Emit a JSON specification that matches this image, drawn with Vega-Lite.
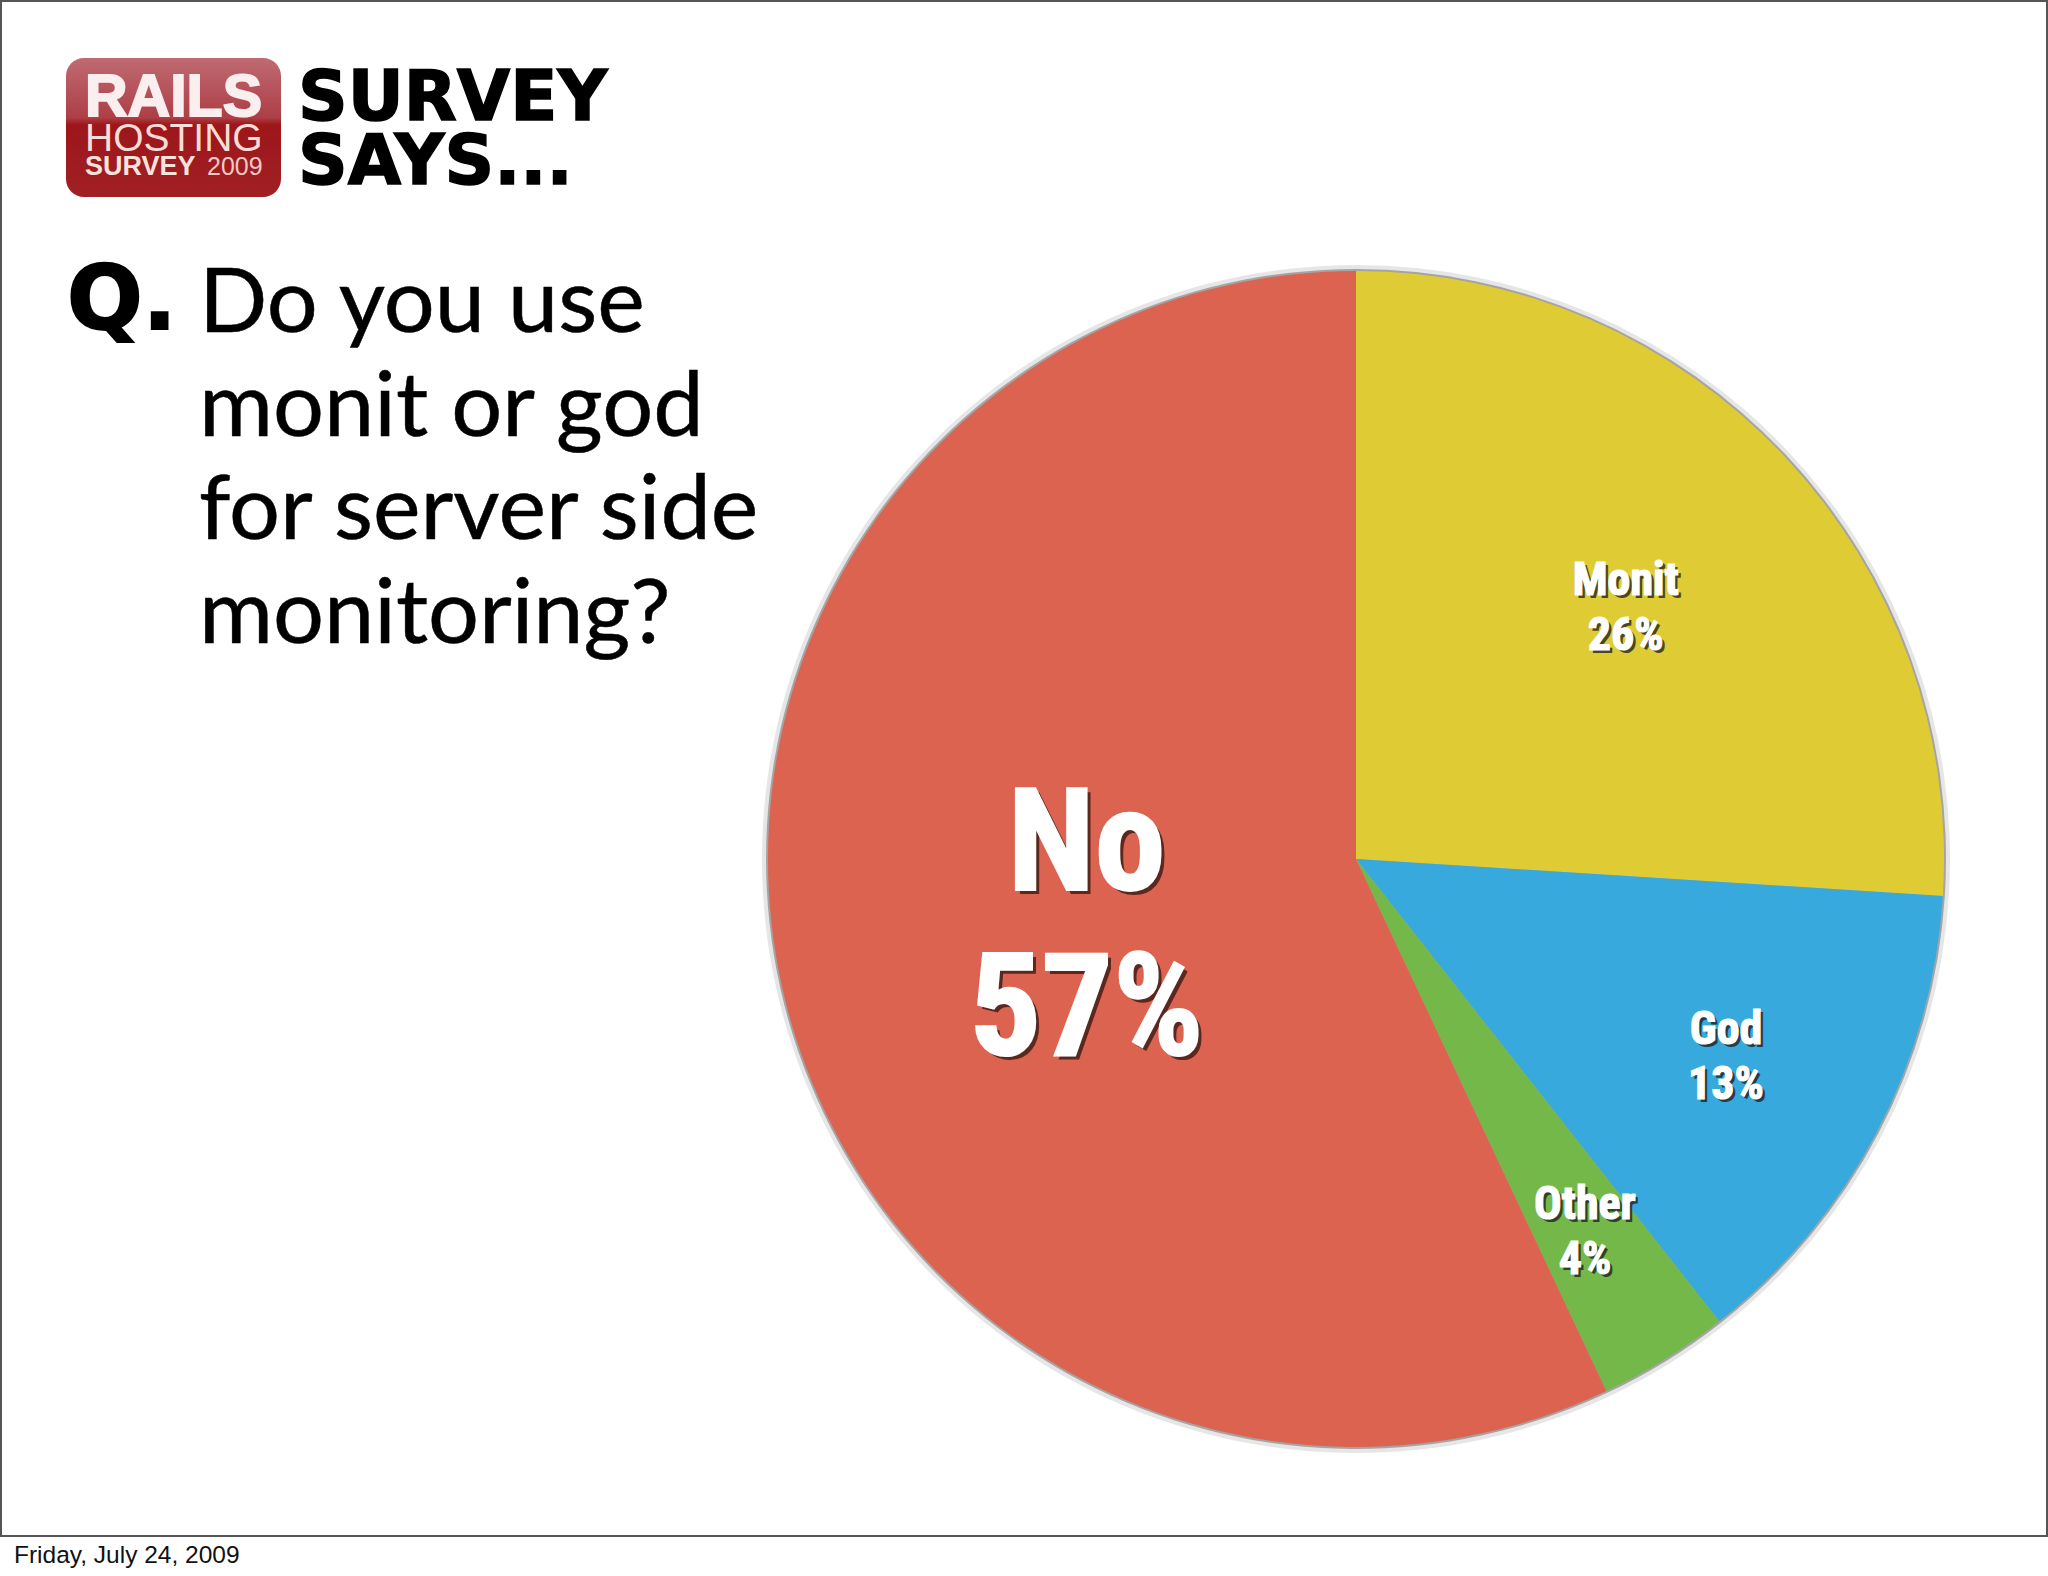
{"$schema":"https://vega.github.io/schema/vega-lite/v6.json","width":1178,"height":1178,"padding":{"left":767,"top":270,"right":103,"bottom":128},"autosize":{"type":"none"},"background":"white","view":{"stroke":null},
"datasets":{"pie":[{"category":"Monit","share":26,"rank":1,"label":"Monit\n26%"},{"category":"God","share":13.4,"rank":2,"label":"God\n13%"},{"category":"Other","share":3.6,"rank":3,"label":"Other\n4%"},{"category":"No","share":57,"rank":4,"label":"No\n57%"}]},
"data":{"name":"pie"},
"transform":[{"stack":"share","sort":[{"field":"rank"}],"as":["a0","a1"]},{"calculate":"(datum.a0+datum.a1)/2","as":"mid"}],
"layer":[
{"data":{"values":[{"part":"frame"}]},"mark":{"type":"rect","filled":false,"stroke":"#555555","strokeWidth":2},"encoding":{"x":{"datum":1,"type":"quantitative","scale":{"domain":[767,1945],"nice":false,"zero":false},"axis":null},"x2":{"datum":2047},"y":{"datum":1,"type":"quantitative","scale":{"domain":[1448,270],"nice":false,"zero":false},"axis":null},"y2":{"datum":1536}}},
{"data":{"values":[{"part":"badge"}]},"mark":{"type":"rect","cornerRadius":18,"fill":{"gradient":"linear","x1":0,"y1":0,"x2":0,"y2":1,"stops":[{"offset":0,"color":"#bf6a72"},{"offset":0.43,"color":"#ad3f46"},{"offset":0.48,"color":"#9d161a"},{"offset":1,"color":"#a02024"}]}},"encoding":{"x":{"datum":66},"x2":{"datum":281},"y":{"datum":58},"y2":{"datum":197}}},
{"data":{"values":[{"note":"RAILS"}]},"mark":{"type":"text","align":"left","baseline":"alphabetic","font":"Liberation Sans","fontWeight":"bold","fontSize":59,"fill":"#fbeeee","stroke":"#fbeeee","strokeWidth":2},"encoding":{"x":{"datum":85},"y":{"datum":116},"text":{"field":"note"}}},
{"data":{"values":[{"note":"HOSTING"}]},"mark":{"type":"text","align":"left","baseline":"alphabetic","font":"Liberation Sans","fontSize":39,"fill":"#f7dcd8"},"encoding":{"x":{"datum":85},"y":{"datum":151},"text":{"field":"note"}}},
{"data":{"values":[{"note":"SURVEY"}]},"mark":{"type":"text","align":"left","baseline":"alphabetic","font":"Liberation Sans","fontWeight":"bold","fontSize":27,"fill":"#f7e2dc"},"encoding":{"x":{"datum":85},"y":{"datum":175},"text":{"field":"note"}}},
{"data":{"values":[{"note":"2009"}]},"mark":{"type":"text","align":"left","baseline":"alphabetic","font":"Liberation Sans","fontSize":25,"fill":"#f0c8c4"},"encoding":{"x":{"datum":207},"y":{"datum":175},"text":{"field":"note"}}},
{"data":{"values":[{"note":"SURVEY\nSAYS..."}]},"mark":{"type":"text","align":"left","baseline":"alphabetic","font":"DejaVu Sans","fontWeight":"bold","fontSize":69,"lineHeight":64,"lineBreak":"\n","fill":"#000000","stroke":"#000000","strokeWidth":1.5},"encoding":{"x":{"datum":298},"y":{"datum":120},"text":{"field":"note"}}},
{"data":{"values":[{"note":"Q."}]},"mark":{"type":"text","align":"left","baseline":"alphabetic","font":"DejaVu Sans","fontWeight":"bold","fontSize":89,"fill":"#000000","stroke":"#000000","strokeWidth":2},"encoding":{"x":{"datum":67},"y":{"datum":329},"text":{"field":"note"}}},
{"data":{"values":[{"note":"Do you use\nmonit or god\nfor server side\nmonitoring?"}]},"mark":{"type":"text","align":"left","baseline":"alphabetic","font":"Lato","fontSize":90,"lineHeight":103.5,"lineBreak":"\n","fill":"#000000","stroke":"#000000","strokeWidth":0.5},"encoding":{"x":{"datum":199},"y":{"datum":332},"text":{"field":"note"}}},
{"data":{"values":[{"note":"Friday, July 24, 2009"}]},"mark":{"type":"text","align":"left","baseline":"alphabetic","font":"Liberation Sans","fontSize":24.5,"fill":"#111111"},"encoding":{"x":{"datum":14},"y":{"datum":1563},"text":{"field":"note"}}},
{"mark":{"type":"arc","outerRadius":594,"fill":"#777777","opacity":0.18},"encoding":{"theta":{"field":"a0","type":"quantitative","scale":{"domain":[0,100]}},"theta2":{"field":"a1"}}},
{"mark":{"type":"arc","outerRadius":590,"fill":"#555555","opacity":0.45},"encoding":{"theta":{"field":"a0","type":"quantitative"},"theta2":{"field":"a1"}}},
{"mark":{"type":"arc","outerRadius":588},"encoding":{"theta":{"field":"a0","type":"quantitative"},"theta2":{"field":"a1"},"color":{"field":"category","type":"nominal","legend":null,"scale":{"domain":["Monit","God","Other","No"],"range":["#dfcc35","#37a9dd","#74b84a","#dc6350"]}}}},
{"transform":[{"filter":"datum.category === 'Monit'"}],"mark":{"type":"text","radius":370,"font":"Roboto Condensed","fontWeight":"bold","fontSize":46,"lineHeight":55,"lineBreak":"\n","fill":"#1a1a1a","opacity":0.75,"dx":3,"dy":-22},"encoding":{"theta":{"field":"mid","type":"quantitative"},"text":{"field":"label"}}},
{"transform":[{"filter":"datum.category === 'Monit'"}],"mark":{"type":"text","radius":370,"font":"Roboto Condensed","fontWeight":"bold","fontSize":46,"lineHeight":55,"lineBreak":"\n","fill":"#ffffff","stroke":"#ffffff","strokeWidth":1.2,"dy":-25},"encoding":{"theta":{"field":"mid","type":"quantitative"},"text":{"field":"label"}}},
{"transform":[{"filter":"datum.category === 'God'"}],"mark":{"type":"text","radius":418,"font":"Roboto Condensed","fontWeight":"bold","fontSize":46,"lineHeight":55,"lineBreak":"\n","fill":"#1a1a1a","opacity":0.75,"dx":3,"dy":-20},"encoding":{"theta":{"field":"mid","type":"quantitative"},"text":{"field":"label"}}},
{"transform":[{"filter":"datum.category === 'God'"}],"mark":{"type":"text","radius":418,"font":"Roboto Condensed","fontWeight":"bold","fontSize":46,"lineHeight":55,"lineBreak":"\n","fill":"#ffffff","stroke":"#ffffff","strokeWidth":1.2,"dy":-23},"encoding":{"theta":{"field":"mid","type":"quantitative"},"text":{"field":"label"}}},
{"transform":[{"filter":"datum.category === 'Other'"}],"mark":{"type":"text","radius":436,"font":"Roboto Condensed","fontWeight":"bold","fontSize":46,"lineHeight":55,"lineBreak":"\n","fill":"#1a1a1a","opacity":0.75,"dx":3,"dy":-22},"encoding":{"theta":{"field":"mid","type":"quantitative"},"text":{"field":"label"}}},
{"transform":[{"filter":"datum.category === 'Other'"}],"mark":{"type":"text","radius":436,"font":"Roboto Condensed","fontWeight":"bold","fontSize":46,"lineHeight":55,"lineBreak":"\n","fill":"#ffffff","stroke":"#ffffff","strokeWidth":1.2,"dy":-25},"encoding":{"theta":{"field":"mid","type":"quantitative"},"text":{"field":"label"}}},
{"transform":[{"filter":"datum.category === 'No'"}],"mark":{"type":"text","radius":276,"font":"Roboto Condensed","fontWeight":"bold","fontSize":142,"lineHeight":165,"lineBreak":"\n","fill":"#3a1a14","opacity":0.8,"dx":4,"dy":-68},"encoding":{"theta":{"field":"mid","type":"quantitative"},"text":{"field":"label"}}},
{"transform":[{"filter":"datum.category === 'No'"}],"mark":{"type":"text","radius":276,"font":"Roboto Condensed","fontWeight":"bold","fontSize":142,"lineHeight":165,"lineBreak":"\n","fill":"#ffffff","stroke":"#ffffff","strokeWidth":2,"dy":-72},"encoding":{"theta":{"field":"mid","type":"quantitative"},"text":{"field":"label"}}}
]}
